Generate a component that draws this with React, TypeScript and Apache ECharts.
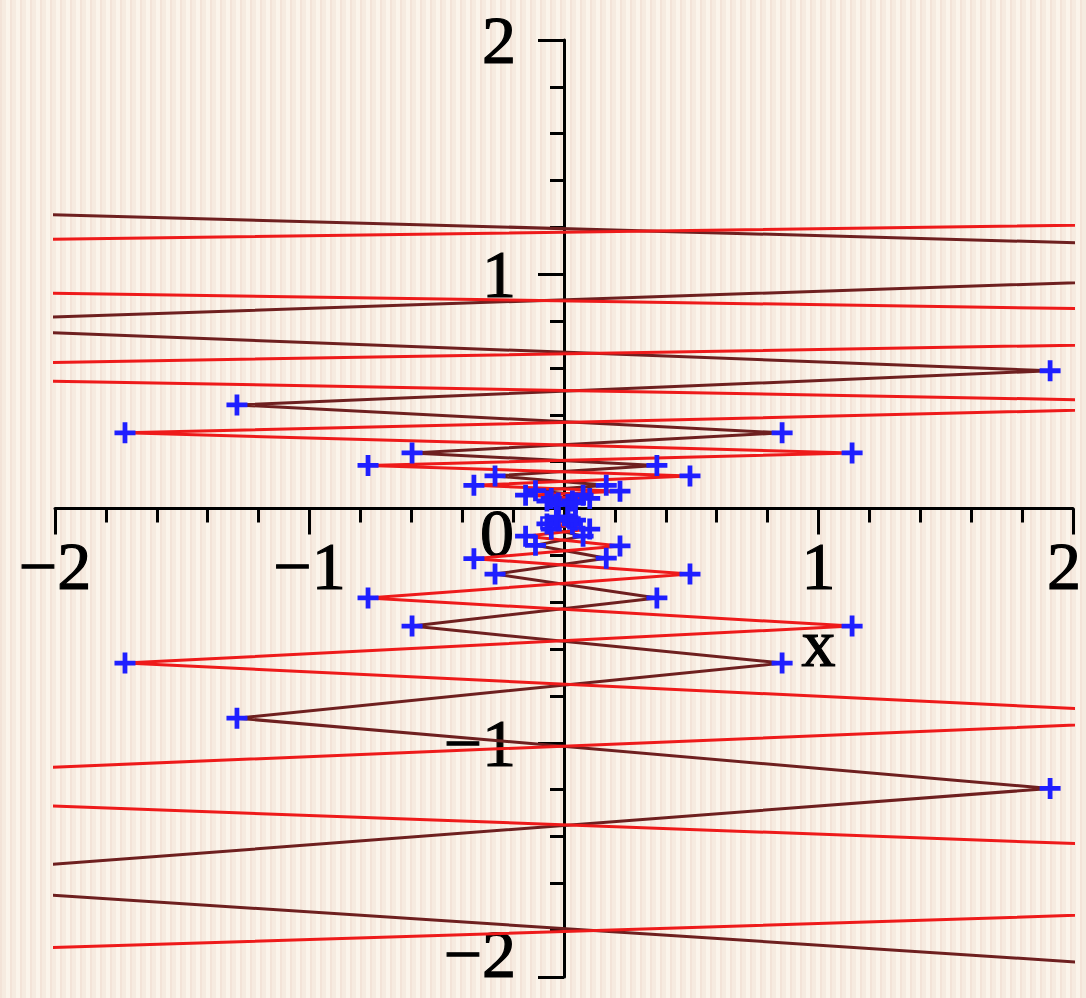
import React, { useEffect, useRef } from "react";
import * as echarts from "echarts";

// Upper red zig-zag (vertices, many of them lie outside the visible window)
const redUpperX = [13.5, -9.4, 6.5, -4.1, 3.0, -1.725, 1.132, -0.77, 0.495, -0.354, 0.22, -0.151, 0.101, -0.067, 0.045, -0.03];
const redUpperY = [1.38, 1.04, 0.78, 0.585, 0.445, 0.323, 0.237, 0.184, 0.139, 0.099, 0.074, 0.057, 0.043, 0.032, 0.024, 0.018];

// Upper dark-red zig-zag
const darkUpperX = [-6.45, 4.58, -2.875, 1.91, -1.285, 0.857, -0.597, 0.365, -0.271, 0.166, -0.112, 0.075, -0.05, 0.033, -0.022, 0.015];
const darkUpperY = [1.387, 1.058, 0.786, 0.588, 0.442, 0.323, 0.237, 0.184, 0.139, 0.099, 0.076, 0.057, 0.043, 0.032, 0.024, 0.018];

// Lower red zig-zag
const redLowerX = [13.5, -8.7, 6.14, -3.97, 2.74, -1.725, 1.132, -0.77, 0.495, -0.354, 0.22, -0.151, 0.101, -0.067, 0.045, -0.03];
const redLowerY = [-2.76, -2.104, -1.595, -1.192, -0.892, -0.66, -0.502, -0.382, -0.28, -0.214, -0.16, -0.118, -0.088, -0.066, -0.05, -0.037];

// Lower dark-red zig-zag
const darkLowerX = [-6.45, 4.3, -2.865, 1.91, -1.285, 0.857, -0.597, 0.365, -0.271, 0.166, -0.112, 0.075, -0.05, 0.033, -0.022, 0.015];
const darkLowerY = [-2.77, -2.098, -1.59, -1.195, -0.895, -0.66, -0.502, -0.382, -0.28, -0.212, -0.157, -0.118, -0.088, -0.066, -0.05, -0.037];

// Two box markers near the origin
const boxX = [-0.067, 0.039];
const boxY = [-0.062, -0.062];

const axisMin = -2;
const axisMax = 2;
const xTickLabels = [-2, -1, 1, 2];
const yTickLabels = [-2, -1, 1, 2];
const zeroLabel = "0";
const xAxisName = "x";

const RED = "#ee1a1a";
const DARK = "#6e1f1f";
const BLUE = "#1f1fff";
const FONT = "68px 'Liberation Serif'";

function pairs(xs: number[], ys: number[]) {
  return xs.map((x, i) => [x, ys[i]]);
}

const fmt = (v: number) => (v < 0 ? "\u2212" + Math.abs(v) : String(v));

export default function App() {
  const ref = useRef<HTMLDivElement>(null);

  useEffect(() => {
    if (!ref.current) return;
    const chart = echarts.init(ref.current, null, { renderer: "svg" });
    const crossPath = "path://M8.5,0h5v8.5h8.5v5h-8.5v8.5h-5v-8.5h-8.5v-5h8.5z";

    const lineSeries = (xs: number[], ys: number[], color: string) => ({
      type: "line",
      data: pairs(xs, ys),
      symbol: "none",
      showSymbol: false,
      lineStyle: { color, width: 3 },
      clip: true,
      silent: true,
      z: 2,
    });
    const markerSeries = (xs: number[], ys: number[]) => ({
      type: "scatter",
      data: pairs(xs, ys),
      symbol: crossPath,
      symbolSize: 21,
      itemStyle: { color: BLUE, opacity: 1 },
      clip: true,
      silent: true,
      z: 4,
    });
    const axisCommon = {
      type: "value",
      min: axisMin,
      max: axisMax,
      interval: 1,
      axisLine: { show: true, onZero: true, lineStyle: { color: "#000", width: 3 } },
      axisTick: { show: true, length: 26, lineStyle: { color: "#000", width: 3 } },
      minorTick: { show: true, splitNumber: 5, length: 14, lineStyle: { color: "#000", width: 3 } },
      splitLine: { show: false },
      minorSplitLine: { show: false },
      axisLabel: { show: false },
    };

    chart.setOption({
      animation: false,
      backgroundColor: "transparent",
      grid: { left: 55, right: 13, top: 40, bottom: 21, containLabel: false, outerBoundsMode: "none" },
      xAxis: { ...axisCommon },
      yAxis: { ...axisCommon },
      series: [
        lineSeries(darkUpperX, darkUpperY, DARK),
        lineSeries(redUpperX, redUpperY, RED),
        lineSeries(darkLowerX, darkLowerY, DARK),
        lineSeries(redLowerX, redLowerY, RED),
        markerSeries(darkUpperX, darkUpperY),
        markerSeries(redUpperX, redUpperY),
        markerSeries(darkLowerX, darkLowerY),
        markerSeries(redLowerX, redLowerY),
        {
          type: "scatter",
          data: pairs(boxX, boxY),
          symbol: "rect",
          symbolSize: 11,
          itemStyle: { color: "transparent", borderColor: BLUE, borderWidth: 2.5, opacity: 1 },
          clip: true,
          silent: true,
          z: 4,
        },
      ],
    });

    // tick labels placed next to the axes that cross at the origin
    const px = (x: number, y: number) => chart.convertToPixel({ gridIndex: 0 }, [x, y]) as number[];
    const origin = px(0, 0);
    const textStyle = (text: string, align: string) => ({
      text,
      font: FONT,
      fill: "#000",
      stroke: "#000",
      lineWidth: 1.2,
      textAlign: align,
      textVerticalAlign: "middle",
    });
    const texts: any[] = [];
    xTickLabels.forEach((v) => {
      const p = px(v, 0);
      texts.push({
        type: "text",
        x: Math.min(p[0], 1064),
        y: origin[1] + 57,
        z: 1,
        style: textStyle(fmt(v), "center"),
      });
    });
    yTickLabels.forEach((v) => {
      const p = px(0, v);
      const yy = Math.min(Math.max(p[1], 34), 954);
      texts.push({
        type: "text",
        x: origin[0] - 48,
        y: yy,
        z: 1,
        style: textStyle(fmt(v), "right"),
      });
    });
    texts.push({
      type: "text",
      x: origin[0] - 67,
      y: origin[1] + 24,
      z: 1,
      style: textStyle(zeroLabel, "center"),
    });
    const nameP = px(1, 0);
    texts.push({
      type: "text",
      x: nameP[0],
      y: origin[1] + 134,
      z: 1,
      style: textStyle(xAxisName, "center"),
    });
    chart.setOption({ graphic: texts });

    return () => chart.dispose();
  }, []);

  return (
    <div
      ref={ref}
      style={{
        position: "fixed",
        left: 0,
        top: 0,
        width: 1086,
        height: 998,
        backgroundColor: "#f6ebe0",
        backgroundImage:
          "repeating-linear-gradient(90deg, rgba(236,208,196,0.3) 0px, rgba(236,208,196,0.3) 2px, rgba(255,255,255,0) 2px, rgba(255,255,255,0) 6px, rgba(255,252,244,0.55) 6px, rgba(255,252,244,0.55) 10px)",
      }}
    />
  );
}
